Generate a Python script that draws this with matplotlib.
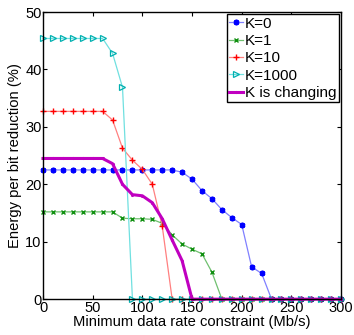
import numpy as np
import matplotlib
matplotlib.use("Agg")
import matplotlib.pyplot as plt

plt.rcParams['font.family'] = ['Liberation Sans', 'DejaVu Sans']

# --- data ---
rate = np.arange(0, 301, 10)

k0 = [22.5] * 14 + [22.1, 20.9, 18.9, 17.5, 15.6, 14.2, 13.0, 5.6, 4.5] + [0.0] * 8
k1 = [15.2] * 8 + [14.1, 14.0, 14.0, 13.9, 13.2, 11.2, 9.6, 8.7, 7.9, 4.7] + [0.0] * 13
k10 = [32.7] * 7 + [31.2, 26.3, 24.2, 22.6, 20.0, 12.7] + [0.0] * 18
k1000 = [45.4] * 7 + [42.8, 36.9] + [0.0] * 22
k_changing = [24.5] * 7 + [23.6, 20.0, 18.2, 18.0, 16.8, 14.0, 10.3, 6.7] + [0.0] * 16

labels = ["K=0", "K=1", "K=10", "K=1000", "K is changing"]

fig = plt.figure(figsize=(3.54, 3.35), dpi=100)
ax = fig.add_axes([0.1215, 0.107, 0.842, 0.857])

ax.plot(rate, k0, color='#8080ff', lw=0.9, marker=(6, 2, 0), ms=4, mew=1.5,
        mec='#0000ff', mfc='#0000ff', label=labels[0], clip_on=False)
ax.plot(rate, k1, color='#70c070', lw=0.9, marker='x', ms=3, mew=1.0,
        mec='#109010', label=labels[1], clip_on=False)
ax.plot(rate, k10, color='#ff8080', lw=0.9, marker='+', ms=5, mew=1.0,
        mec='#ff0000', label=labels[2], clip_on=False)
ax.plot(rate, k1000, color='#70e0e0', lw=0.9, marker='>', ms=4, mew=0.9,
        mec='#00b0b0', mfc='none', label=labels[3], clip_on=False)
ax.plot(rate, k_changing, color='#c000c0', lw=2.2, marker='.', ms=2.5,
        mec='#c000c0', label=labels[4], clip_on=False)

ax.set_xlim(0, 300)
ax.set_ylim(0, 50)
ax.set_xticks(np.arange(0, 301, 50))
ax.set_yticks(np.arange(0, 51, 10))
ax.tick_params(direction='in', top=True, right=True, length=3, labelsize=10.5, pad=1)
for s in ax.spines.values():
    s.set_linewidth(1.0)

ax.set_xlabel("Minimum data rate constraint (Mb/s)", fontsize=10.6, labelpad=0)
ax.set_ylabel("Energy per bit reduction (%)", fontsize=10.6, labelpad=2)

leg = ax.legend(loc='upper right', bbox_to_anchor=(1.0, 1.0), fontsize=11,
                handlelength=0.9, handletextpad=0.15, borderpad=0.15,
                labelspacing=0.22, borderaxespad=0.15, fancybox=False,
                framealpha=1, edgecolor='black')
leg.get_frame().set_linewidth(1.0)

fig.savefig("out.png", dpi=100)
